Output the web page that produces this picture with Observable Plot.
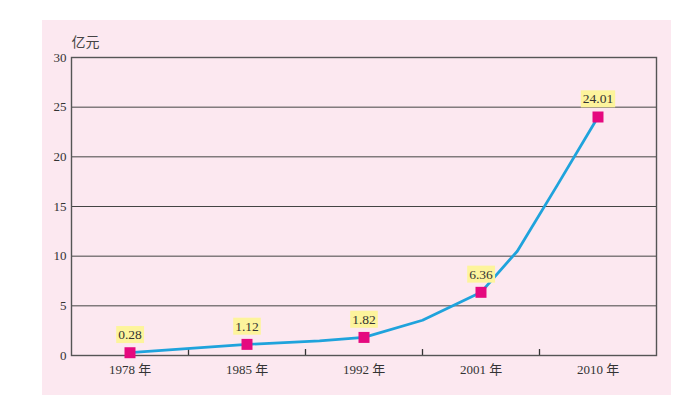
<!DOCTYPE html>
<html>
<head>
<meta charset="utf-8">
<script src="https://cdn.jsdelivr.net/npm/d3@7"></script>
<script src="https://cdn.jsdelivr.net/npm/@observablehq/plot@0.6"></script>
<style>
  html, body { margin: 0; padding: 0; background: #ffffff; }
  #wrap { position: relative; width: 691px; height: 404px; }
  #panel { position: absolute; left: 42px; top: 20px; width: 629px; height: 375px; background: #fce8f0; }
  #chart { position: absolute; left: 0; top: 0; }
</style>
</head>
<body>
<div id="wrap"><div id="panel"></div><div id="chart"></div></div>
<script>
// Categories (years) and the labelled values
const categories = ["1978", "1985", "1992", "2001", "2010"];
const values = [0.28, 1.12, 1.82, 6.36, 24.01];
// Line series, including intermediate points (category index, value)
const trendIndex = [0, 1, 1.62, 2, 2.5, 3, 3.31, 3.65, 4];
const trendValues = [0.28, 1.12, 1.47, 1.82, 3.55, 6.36, 10.5, 17.1, 24.01];
const yTicks = [0, 5, 10, 15, 20, 25, 30];
const gridValues = [5, 10, 15, 20, 25];
const unitLabel = "亿元";
const yearSuffix = " 年";

const points = categories.map((c, i) => ({i, c, v: values[i]}));
const trend = trendIndex.map((x, k) => ({x, v: trendValues[k]}));
const boundaries = d3.range(1, categories.length).map(i => i - 0.5);

const serif = "'Liberation Serif', 'Noto Sans CJK SC', serif";

const chart = Plot.plot({
  width: 691,
  height: 404,
  marginLeft: 71,
  marginRight: 35,
  marginTop: 57,
  marginBottom: 49,
  style: {background: "transparent", fontFamily: serif, fontSize: "13px", color: "#333"},
  x: {domain: [-0.5, categories.length - 0.5], ticks: d3.range(categories.length),
      tickFormat: i => categories[i] + yearSuffix, tickSize: 0, tickPadding: 9, label: null},
  y: {domain: [0, 30], ticks: yTicks, tickSize: 0, tickPadding: 5, label: null},
  marks: [
    Plot.ruleY(gridValues, {stroke: "#444", strokeWidth: 1}),
    Plot.ruleX(boundaries, {y1: 0, y2: 0.6, stroke: "#333", strokeWidth: 1.3}),
    Plot.frame({stroke: "#555", strokeWidth: 1.4}),
    Plot.line(trend, {x: "x", y: "v", stroke: "#1fa3dc", strokeWidth: 2.8}),
    Plot.dot(points, {x: "i", y: "v", symbol: "square", r: 6.2, fill: "#e5097f", stroke: "none"}),
    Plot.text(points, {x: "i", y: "v", text: d => d.v.toFixed(2), dy: -18, fill: "#333",
      fontSize: 13.5}),
    Plot.text([unitLabel], {frameAnchor: "top-left", text: d => d, dy: -20, dx: 0,
      textAnchor: "start", fill: "#444", fontSize: 14,
      fontFamily: "'Noto Sans CJK SC', sans-serif"})
  ]
});
document.getElementById("chart").appendChild(chart);

// yellow boxes behind the value labels
const labelSet = new Set(values.map(v => v.toFixed(2)));
d3.select(chart).selectAll("text").filter(function() {
  return this.children.length === 0 && labelSet.has(this.textContent) &&
    this.parentNode.getAttribute("aria-label") === "text";
}).each(function() {
  const b = this.getBBox();
  d3.select(this.parentNode).insert("rect", () => this)
    .attr("x", b.x - 2).attr("y", b.y - 1).attr("width", b.width + 4).attr("height", b.height + 2)
    .attr("transform", this.getAttribute("transform"))
    .attr("fill", "#fdf49c");
});
</script>
</body>
</html>
